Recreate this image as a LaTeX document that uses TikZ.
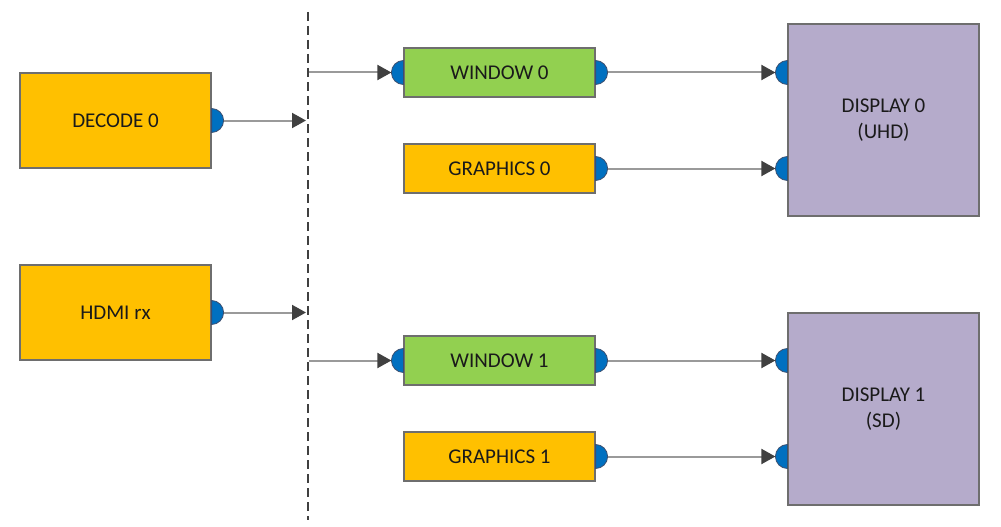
\documentclass[tikz,border=0pt]{standalone}
\usepackage{fontspec}
\setmainfont{Carlito}
\usetikzlibrary{arrows.meta,calc}

\definecolor{boxyellow}{HTML}{FFC000}
\definecolor{boxgreen}{HTML}{92D050}
\definecolor{boxpurple}{HTML}{B5ABCB}
\definecolor{portblue}{HTML}{0070C0}
\definecolor{portedge}{HTML}{3C4E6E}
\definecolor{boxedge}{HTML}{6E6E6E}
\definecolor{wire}{HTML}{9A9A9A}
\definecolor{tipgray}{HTML}{404040}
\definecolor{ink}{HTML}{1A1A1A}

\tikzset{
  block/.style={draw=boxedge, line width=1.2pt, minimum width=191pt,
    text=ink, font=\fontsize{21}{26}\selectfont, align=center, inner sep=0pt},
  srcbox/.style={block, fill=boxyellow, minimum height=95pt},
  winbox/.style={block, fill=boxgreen, minimum height=49pt},
  gfxbox/.style={block, fill=boxyellow, minimum height=49pt},
  dispbox/.style={block, fill=boxpurple, minimum height=192pt},
  port/.style={fill=portblue, draw=portedge, line width=0.8pt},
  conn/.style={draw=wire, line width=2pt,
    -{Triangle[length=14pt,width=15pt,color=tipgray]}},
  divider/.style={draw=tipgray, line width=2.2pt, dash pattern=on 9pt off 5pt}
}

\begin{document}
\begin{tikzpicture}[x=1pt,y=-1pt]
\useasboundingbox (0,0) rectangle (1001,527);

% sources
\node[srcbox] (dec)  at (115.5,120.5) {DECODE 0};
\node[srcbox] (hdmi) at (115.5,312.5) {HDMI rx};

% window and graphics planes
\node[winbox] (win0) at (499.5,72.5)  {WINDOW 0};
\node[gfxbox] (gfx0) at (499.5,168.5) {GRAPHICS 0};
\node[winbox] (win1) at (499.5,360.5) {WINDOW 1};
\node[gfxbox] (gfx1) at (499.5,456.5) {GRAPHICS 1};

% displays
\node[dispbox] (disp0) at (883.5,120) {DISPLAY 0\\(UHD)};
\node[dispbox] (disp1) at (883.5,409) {DISPLAY 1\\(SD)};

% dashed routing bus
\coordinate (busTop) at (308,12);
\coordinate (busBot) at (308,520);
\draw[divider] (busTop) -- (busBot);
\coordinate (inDec)  at (306,120.5);
\coordinate (inHdmi) at (306,312.5);
\coordinate (outW0)  at (309,72.5);
\coordinate (outW1)  at (309,360.5);

% output ports (right half-discs)
\foreach \n in {dec,hdmi,win0,gfx0,win1,gfx1}{
  \draw[port] ($(\n.east)+(0pt,-12pt)$) arc[start angle=-90,end angle=90,radius=12pt] -- cycle;
  \coordinate (\n-out) at ($(\n.east)+(12pt,0pt)$);
}

% input ports (left half-discs)
\foreach \n/\p in {win0/win0,win1/win1}{
  \draw[port] ($(\n.west)+(0pt,12pt)$) arc[start angle=90,end angle=270,radius=12pt] -- cycle;
  \coordinate (\p-in) at ($(\n.west)+(-12pt,0pt)$);
}
\foreach \d/\yy/\nm in {disp0/72.5/d0a, disp0/168.5/d0b, disp1/360.5/d1a, disp1/456.5/d1b}{
  \coordinate (\nm-pt) at (\d.west |- 0,\yy);
  \draw[port] ($(\nm-pt)+(0pt,12pt)$) arc[start angle=90,end angle=270,radius=12pt] -- cycle;
  \coordinate (\nm-in) at ($(\nm-pt)+(-12pt,0pt)$);
}

% connections
\draw[conn] (dec-out)  -- (inDec);
\draw[conn] (hdmi-out) -- (inHdmi);
\draw[conn] (outW0) -- (win0-in);
\draw[conn] (outW1) -- (win1-in);
\draw[conn] (win0-out) -- (d0a-in);
\draw[conn] (gfx0-out) -- (d0b-in);
\draw[conn] (win1-out) -- (d1a-in);
\draw[conn] (gfx1-out) -- (d1b-in);
\end{tikzpicture}
\end{document}
